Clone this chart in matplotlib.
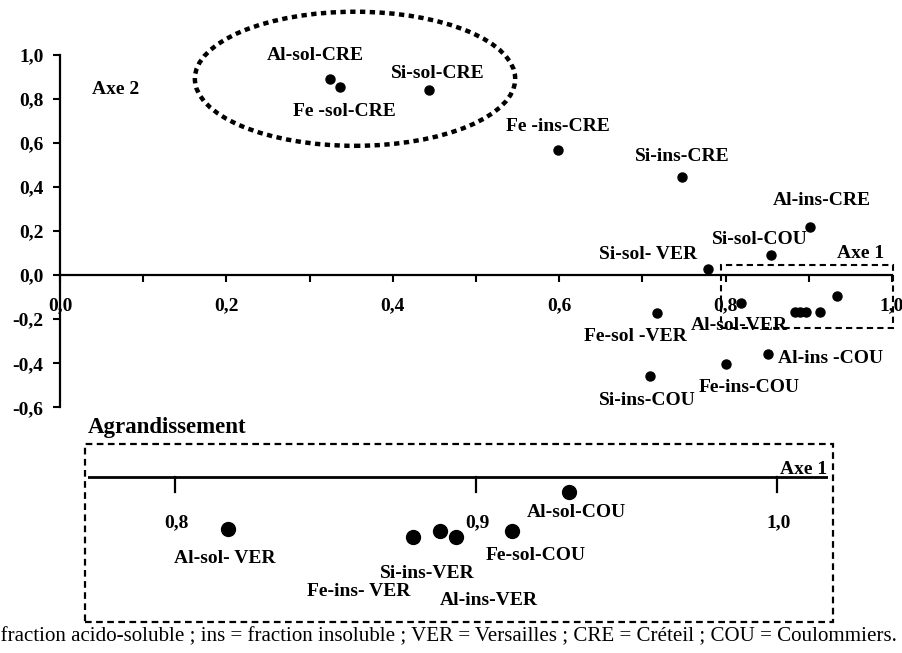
import matplotlib
matplotlib.use("Agg")
from matplotlib import pyplot as plt
from matplotlib.patches import Ellipse, Rectangle

plt.rcParams['font.family'] = ['Liberation Serif', 'DejaVu Serif']
plt.rcParams['font.weight'] = 'bold'

# ACP : coordonnees sur les axes 1 et 2
noms = ["Al-sol-CRE", "Fe -sol-CRE", "Si-sol-CRE", "Fe -ins-CRE", "Si-ins-CRE",
        "Al-ins-CRE", "Si-sol-COU", "Si-sol- VER", "Fe-sol -VER", "Al-sol-VER",
        "Fe-ins-VER", "Si-ins-VER", "Al-ins-VER", "Fe-sol-COU", "Al-sol-COU",
        "Al-ins -COU", "Fe-ins-COU", "Si-ins-COU"]
axe1 = [0.325, 0.337, 0.444, 0.598, 0.748, 0.902, 0.854, 0.779, 0.717, 0.819,
        0.884, 0.890, 0.897, 0.914, 0.934, 0.851, 0.800, 0.709]
axe2 = [0.892, 0.855, 0.842, 0.570, 0.444, 0.221, 0.092, 0.029, -0.170, -0.127,
        -0.165, -0.165, -0.165, -0.165, -0.094, -0.358, -0.405, -0.460]

# agrandissement (dessin a part, zone 0,8 - 1,0)
agr_noms = ["Al-sol- VER", "Fe-ins- VER", "Si-ins-VER", "Al-ins-VER", "Fe-sol-COU", "Al-sol-COU"]
agr_x = [0.8176, 0.879, 0.888, 0.8935, 0.912, 0.931]
agr_y = [-0.0175, -0.0201, -0.0179, -0.0199, -0.0179, -0.0050]

x_ticks = [0.0, 0.2, 0.4, 0.6, 0.8, 1.0]
x_ticklabels = ["0,0", "0,2", "0,4", "0,6", "0,8", "1,0"]
y_ticks = [-0.6, -0.4, -0.2, 0.0, 0.2, 0.4, 0.6, 0.8, 1.0]
y_ticklabels = ["-0,6", "-0,4", "-0,2", "0,0", "0,2", "0,4", "0,6", "0,8", "1,0"]
agr_ticks = [0.8, 0.9, 1.0]
agr_ticklabels = ["0,8", "0,9", "1,0"]

note = ("sol = fraction acido-soluble ; ins = fraction insoluble ; VER = Versailles ; "
        "CRE = Créteil ; COU = Coulommiers.")

# decalages des etiquettes (points)
dec = {"Al-sol-CRE": (-11, 17), "Fe -sol-CRE": (3, -18), "Si-sol-CRE": (6, 12),
       "Fe -ins-CRE": (0, 16.5), "Si-ins-CRE": (0, 15), "Al-ins-CRE": (8, 19),
       "Si-sol-COU": (-8, 11), "Si-sol- VER": (-43, 10), "Fe-sol -VER": (-15, -17.5),
       "Al-sol-VER": (-1.5, -16), "Al-ins -COU": (45, -3), "Fe-ins-COU": (17, -17),
       "Si-ins-COU": (-2, -17)}
agr_dec = [(-2, -21), (-39, -39), (-9, -31), (23, -46), (17, -18), (5, -15)]

FS = 14
W, H = 903, 653
fig = plt.figure(figsize=(W / 100, H / 100), dpi=100)

def px(x0, y0, x1, y1):
    return [x0 / W, 1 - y1 / H, (x1 - x0) / W, (y1 - y0) / H]

ax = fig.add_axes(px(60, 55, 892, 407.3))
ax.set_xlim(0, 1.0)
ax.set_ylim(-0.6, 1.0)
for s in ['top', 'right']:
    ax.spines[s].set_visible(False)
ax.spines['bottom'].set_position(('data', 0))
ax.spines['left'].set_position(('data', 0))
ax.spines['bottom'].set_linewidth(1.6)
ax.spines['left'].set_linewidth(1.6)
ax.set_xticks([i / 10 for i in range(11)])
ax.set_xticklabels([x_ticklabels[x_ticks.index(t)] if t in x_ticks else ""
                    for t in [round(i / 10, 1) for i in range(11)]])
ax.set_yticks(y_ticks)
ax.set_yticklabels(y_ticklabels)
ax.tick_params(axis='x', direction='out', length=5, width=1.5, pad=11, labelsize=FS)
ax.tick_params(axis='y', direction='out', length=5, width=1.5, pad=7, labelsize=FS)
ax.patch.set_visible(False)

ax.plot(axe1, axe2, 'o', color='black', markersize=6.5, clip_on=False)
for n, x, y in zip(noms, axe1, axe2):
    if n in dec:
        ax.annotate(n, (x, y), xytext=dec[n], textcoords='offset points',
                    ha='center', va='center', fontsize=FS)

ax.text(92 / W, 1 - 89 / H, "Axe 2", transform=fig.transFigure, fontsize=FS,
        ha='left', va='center')
ax.text(884 / W, 1 - 254 / H, "Axe 1", transform=fig.transFigure, fontsize=FS,
        ha='right', va='center')

# ellipse pointillee autour des CRE solubles
ax.add_patch(Ellipse((0.3546, 0.892), 0.385, 0.609, fill=False, edgecolor='black',
                     linewidth=3.2, linestyle=(0, (1.2, 1.0)), clip_on=False))
# zone agrandie
ax.add_patch(Rectangle((0.795, -0.241), 0.2066, 0.285, fill=False, edgecolor='black',
                       linewidth=1.5, linestyle=(0, (3, 2)), clip_on=False))

# agrandissement
fig.text(88 / W, 1 - 428 / H, "Agrandissement", fontsize=16.5, ha='left', va='center')
fig.patches.append(Rectangle((85 / W, 1 - 621.7 / H), (833.3 - 85) / W, (621.7 - 444.3) / H,
                             transform=fig.transFigure, fill=False, edgecolor='black',
                             linewidth=1.6, linestyle=(0, (3, 2))))
ax2 = fig.add_axes(px(88, 444.3, 828, 621.7))
ax2.set_xlim(0.7711, 1.0169)
ax2.set_ylim(-(621.7 - 476.7) / 3010, (476.7 - 444.3) / 3010)
ax2.axis('off')
ax2.axhline(0, color='black', linewidth=2)
for t, lab in zip(agr_ticks, agr_ticklabels):
    ax2.plot([t, t], [0, -15 / 3010], color='black', linewidth=1.6)
    ax2.annotate(lab, (t, 0), xytext=(1, -33), textcoords='offset points',
                 ha='center', va='center', fontsize=FS)
ax2.plot(agr_x, agr_y, 'o', color='black', markersize=10, clip_on=False)
for n, x, y, d in zip(agr_noms, agr_x, agr_y, agr_dec):
    ax2.annotate(n, (x, y), xytext=d, textcoords='offset points',
                 ha='center', va='center', fontsize=FS)
fig.text(827 / W, 1 - 469 / H, "Axe 1", fontsize=FS, ha='right', va='center')

# note de bas de page, coupee a gauche comme sur l'original
fig.text(897 / W, 1 - 637 / H, note, fontsize=15.1, fontweight='normal',
         ha='right', va='center')

fig.savefig("out.png", dpi=100)
